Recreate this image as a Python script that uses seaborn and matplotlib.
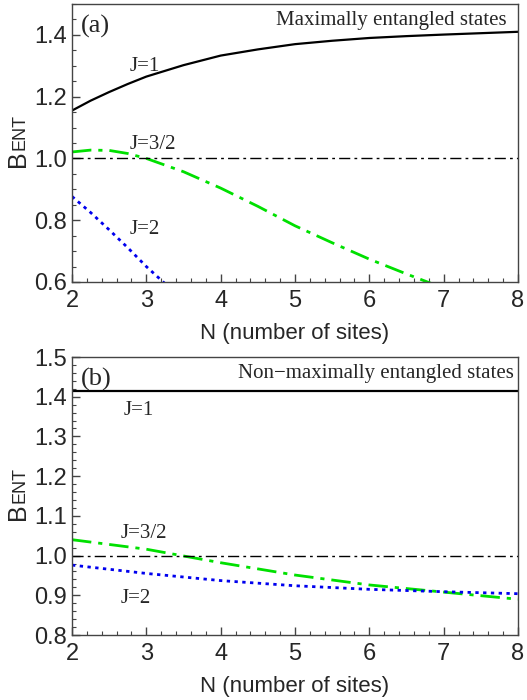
import matplotlib
matplotlib.use("Agg")
import matplotlib.pyplot as plt
import numpy as np
import pandas as pd
import seaborn as sns
from matplotlib.ticker import MultipleLocator

# panel (a): maximally entangled states
n_a = [2, 2.25, 2.5, 2.75, 3, 3.5, 4, 4.5, 5, 5.5, 6, 6.5, 7, 8]
a_j1 = [1.155, 1.187, 1.215, 1.241, 1.265, 1.302, 1.333, 1.353, 1.370,
        1.381, 1.390, 1.396, 1.401, 1.410]
a_j32 = [1.021, 1.027, 1.026, 1.016, 1.000, 0.957, 0.904, 0.845, 0.782,
         0.727, 0.674, 0.626, 0.580, 0.490]
a_j2 = [0.877, 0.825, 0.769, 0.711, 0.650, 0.540, 0.420, 0.310, 0.200,
        0.100, 0.000, -0.100, -0.200, -0.400]

# panel (b): non-maximally entangled states
n_b = [2, 3, 4, 5, 6, 7, 8]
b_j1 = [1.414, 1.414, 1.414, 1.414, 1.414, 1.414, 1.414]
b_j32 = [1.040, 1.016, 0.982, 0.951, 0.926, 0.908, 0.890]
b_j2 = [0.976, 0.955, 0.937, 0.924, 0.915, 0.909, 0.904]

sns.set_style("ticks")
plt.rcParams['font.family'] = ['Liberation Sans', 'DejaVu Sans']
serif = ['Liberation Serif', 'DejaVu Serif']

fig = plt.figure(figsize=(5.27, 7.0), dpi=100)
ax1 = fig.add_axes([72 / 527, 1 - 282 / 700, 446 / 527, 278 / 700])
ax2 = fig.add_axes([72 / 527, 1 - 635 / 700, 446 / 527, 278 / 700])


def draw(ax, n, j1, j32, j2):
    df = pd.DataFrame({"N": n, "J1": j1, "J32": j32, "J2": j2})
    sns.lineplot(data=df, x="N", y="J1", ax=ax, color="black", lw=1.6)
    sns.lineplot(data=df, x="N", y="J32", ax=ax, color="#00e000", lw=2.0)
    ax.lines[-1].set_dashes([7, 2.5, 1.5, 2.5])
    sns.lineplot(data=df, x="N", y="J2", ax=ax, color="#0000ee", lw=2.0)
    ax.lines[-1].set_dashes([1.2, 1.6])
    ax.axhline(1.0, color="black", lw=1.0, dashes=[8, 3, 2, 3])
    ax.set_xlim(2, 8)
    ax.xaxis.set_major_locator(MultipleLocator(1))
    ax.xaxis.set_minor_locator(MultipleLocator(0.2))
    ax.tick_params(which="both", direction="in", labelsize=17, color="#444444")
    ax.tick_params(which="major", length=6, width=1)
    ax.tick_params(which="minor", length=3, width=0.8)
    ax.tick_params(axis="x", pad=6)
    for s in ax.spines.values():
        s.set_color("#444444")
        s.set_linewidth(1.0)
    ax.set_xlabel("N (number of sites)", fontsize=16, labelpad=8)
    ax.set_ylabel("")
    return ax


def ylab(ax):
    ax.text(-0.121, 0.445, "B", transform=ax.transAxes, rotation=90,
            fontsize=18, ha="center", va="center")
    ax.text(-0.117, 0.538, "ENT", transform=ax.transAxes, rotation=90,
            fontsize=13, ha="center", va="center")


draw(ax1, n_a, a_j1, a_j32, a_j2)
ax1.set_ylim(0.6, 1.5)
ax1.yaxis.set_major_locator(MultipleLocator(0.2))
ax1.yaxis.set_minor_locator(MultipleLocator(0.05))
ylab(ax1)
ax1.text(0.02, 0.96, "(a)", transform=ax1.transAxes, fontsize=19,
         family=serif, va="top")
ax1.text(0.975, 0.975, "Maximally entangled states", transform=ax1.transAxes,
         fontsize=15, family=serif, va="top", ha="right")
ax1.text(2.78, 1.283, "J=1", fontsize=15, family=serif)
ax1.text(2.77, 1.030, "J=3/2", fontsize=15, family=serif)
ax1.text(2.78, 0.755, "J=2", fontsize=15, family=serif)

draw(ax2, n_b, b_j1, b_j32, b_j2)
ax2.set_ylim(0.8, 1.5)
ax2.yaxis.set_major_locator(MultipleLocator(0.1))
ax2.yaxis.set_minor_locator(MultipleLocator(0.02))
ylab(ax2)
ax2.text(0.02, 0.96, "(b)", transform=ax2.transAxes, fontsize=19,
         family=serif, va="top")
ax2.text(0.99, 0.975, "Non\u2212maximally entangled states",
         transform=ax2.transAxes, fontsize=15, family=serif, va="top",
         ha="right")
ax2.text(2.7, 1.353, "J=1", fontsize=15, family=serif)
ax2.text(2.66, 1.043, "J=3/2", fontsize=15, family=serif)
ax2.text(2.66, 0.880, "J=2", fontsize=15, family=serif)

fig.savefig("out.png", dpi=100)
